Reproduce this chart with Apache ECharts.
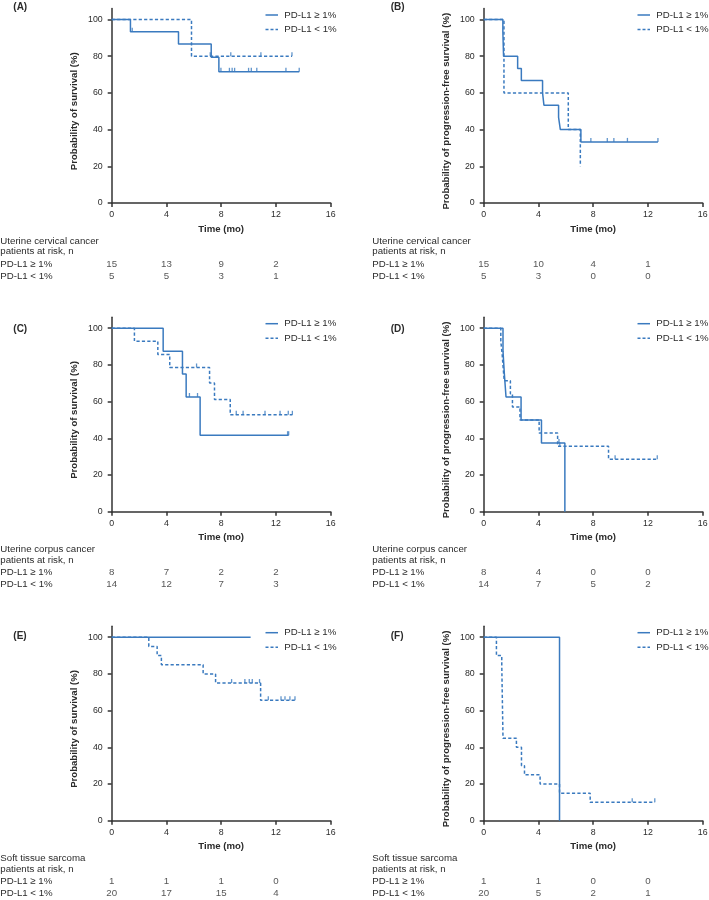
<!DOCTYPE html>
<html><head><meta charset="utf-8">
<script src="https://cdn.jsdelivr.net/npm/echarts@6/dist/echarts.min.js"></script>
<style>html,body{margin:0;padding:0;background:#fff}#c{width:709px;height:900px}</style>
</head><body><div id="c"></div>
<script>
// ---------- DATA ----------
const riskTimes = [0, 4, 8, 12];
const yTicks = [0, 20, 40, 60, 80, 100];
const xTicks = [0, 4, 8, 12, 16];
const seriesNames = ['PD-L1 ≥ 1%', 'PD-L1 < 1%'];
const panelLabels = ['(A)', '(B)', '(C)', '(D)', '(E)', '(F)'];
const yTitleOS = 'Probability of survival (%)';
const yTitlePFS = 'Probability of progression-free survival (%)';
const xTitle = 'Time (mo)';
const headers = ['Uterine cervical cancer', 'Uterine corpus cancer', 'Soft tissue sarcoma'];
const headerSub = 'patients at risk, n';

// (A) OS cervical
const aHiT = [0, 1.37, 4.88, 7.27, 7.83, 13.7];
const aHiS = [100, 93.3, 86.7, 79.4, 71.5, 71.5];
const aHiCens = [1.5, 7.98, 8.6, 8.8, 8.98, 10.0, 10.2, 10.6, 12.73, 13.7];
const aLoT = [0, 5.83, 13.17];
const aLoS = [100, 80, 80];
const aLoCens = [7.2, 8.7, 10.9, 13.17];
const aRiskHi = [15, 13, 9, 2];
const aRiskLo = [5, 5, 3, 1];

// (B) PFS cervical
const bHiT = [0, 1.4, 1.45, 2.48, 2.75, 4.3, 4.4, 5.47, 5.6, 7.1, 12.73];
const bHiS = [100, 93.3, 80, 73.3, 66.7, 60, 53.3, 46.7, 40, 33.3, 33.3];
const bHiCens = [7.83, 9.03, 9.51, 10.5, 12.73];
const bLoT = [0, 1.48, 6.18, 7.06];
const bLoS = [100, 60, 40, 20];
const bLoCens = [];
const bRiskHi = [15, 10, 4, 1];
const bRiskLo = [5, 3, 0, 0];

// (C) OS corpus
const cHiT = [0, 3.76, 5.17, 5.44, 6.46, 12.93];
const cHiS = [100, 87.5, 75, 62.5, 41.7, 41.7];
const cHiCens = [5.68, 6.27, 12.85, 12.93];
const cLoT = [0, 1.66, 3.37, 4.24, 7.15, 7.51, 8.66, 13.2];
const cLoS = [100, 92.9, 85.7, 78.6, 70.2, 61.2, 52.8, 52.8];
const cLoCens = [6.2, 9.1, 9.6, 11.2, 12.3, 12.9, 13.2];
const cRiskHi = [8, 7, 2, 2];
const cRiskLo = [14, 12, 7, 3];

// (D) PFS corpus
const dHiT = [0, 1.41, 1.51, 1.63, 2.73, 4.22, 5.93];
const dHiS = [100, 87.5, 75, 62.5, 50, 37.5, 0];
const dHiCens = [5.5];
const dLoT = [0, 1.25, 1.35, 1.42, 1.5, 1.95, 2.1, 2.65, 4.05, 5.4, 9.12, 12.68];
const dLoS = [100, 92.9, 85.7, 78.6, 71.4, 64.3, 57.1, 50, 42.9, 35.7, 28.6, 28.6];
const dLoCens = [5.56, 9.6, 12.68];
const dRiskHi = [8, 4, 0, 0];
const dRiskLo = [14, 7, 5, 2];

// (E) OS sarcoma
const eHiT = [0, 10.15];
const eHiS = [100, 100];
const eHiCens = [];
const eLoT = [0, 2.71, 3.32, 3.63, 6.68, 7.59, 10.88, 13.39];
const eLoS = [100, 95, 90, 85, 80, 75, 65.6, 65.6];
const eLoCens = [8.76, 9.73, 10.05, 10.27, 10.8, 11.44, 12.37, 12.66, 13.02, 13.39];
const eRiskHi = [1, 1, 1, 0];
const eRiskLo = [20, 17, 15, 4];

// (F) PFS sarcoma
const fHiT = [0, 5.54];
const fHiS = [100, 0];
const fHiCens = [];
const fLoT = [0, 0.93, 1.32, 1.41, 2.39, 2.76, 2.98, 4.12, 5.54, 7.78, 12.5];
const fLoS = [100, 90, 85, 45, 40, 30, 25, 20, 15, 10, 10];
const fLoCens = [10.85, 12.5];
const fRiskHi = [1, 1, 0, 0];
const fRiskLo = [20, 5, 2, 1];

// ---------- LAYOUT ----------
const FONT = '"Liberation Sans", Arial, sans-serif';
const BLUE = '#3a7abf';
const TXT = '#2b2b2b';
const AX = '#333';
const PW = 219, PH = 194.5, YMAX = 106;

const panels = [
  {lab: panelLabels[0], yTitle: yTitleOS,  head: headers[0], hiT: aHiT, hiS: aHiS, hiC: aHiCens, loT: aLoT, loS: aLoS, loC: aLoCens, rHi: aRiskHi, rLo: aRiskLo, left: 111.7, y0: 203,   labY: 7.5},
  {lab: panelLabels[1], yTitle: yTitlePFS, head: headers[0], hiT: bHiT, hiS: bHiS, hiC: bHiCens, loT: bLoT, loS: bLoS, loC: bLoCens, rHi: bRiskHi, rLo: bRiskLo, left: 483.7, y0: 203,   labY: 7.5},
  {lab: panelLabels[2], yTitle: yTitleOS,  head: headers[1], hiT: cHiT, hiS: cHiS, hiC: cHiCens, loT: cLoT, loS: cLoS, loC: cLoCens, rHi: cRiskHi, rLo: cRiskLo, left: 111.7, y0: 511.7, labY: 329},
  {lab: panelLabels[3], yTitle: yTitlePFS, head: headers[1], hiT: dHiT, hiS: dHiS, hiC: dHiCens, loT: dLoT, loS: dLoS, loC: dLoCens, rHi: dRiskHi, rLo: dRiskLo, left: 483.7, y0: 511.7, labY: 329},
  {lab: panelLabels[4], yTitle: yTitleOS,  head: headers[2], hiT: eHiT, hiS: eHiS, hiC: eHiCens, loT: eLoT, loS: eLoS, loC: eLoCens, rHi: eRiskHi, rLo: eRiskLo, left: 111.7, y0: 820.7, labY: 636},
  {lab: panelLabels[5], yTitle: yTitlePFS, head: headers[2], hiT: fHiT, hiS: fHiS, hiC: fHiCens, loT: fLoT, loS: fLoS, loC: fLoCens, rHi: fRiskHi, rLo: fRiskLo, left: 483.7, y0: 820.7, labY: 636}
];

function survAt(T, S, t) {
  let v = S[0];
  for (let i = 0; i < T.length; i++) if (T[i] <= t) v = S[i];
  return v;
}
const zip = (T, S) => T.map((t, i) => [t, S[i]]);

const grid = [], xAxis = [], yAxis = [], series = [], graphic = [];
const lineDash = [3.2, 2.2];

panels.forEach((p, i) => {
  const gMain = grid.length;
  grid.push({left: p.left, top: p.y0 - PH, width: PW, height: PH, containLabel: false, outerBoundsMode: 'none'});
  const gRisk = grid.length;
  grid.push({left: p.left, top: p.y0 + 55, width: PW, height: 24, containLabel: false, outerBoundsMode: 'none'});

  xAxis.push({
    gridIndex: gMain, type: 'value', min: 0, max: 16, interval: 4,
    axisLine: {show: true, onZero: false, lineStyle: {color: AX, width: 1.5}},
    axisTick: {show: true, length: 4, lineStyle: {color: AX, width: 1.5}},
    axisLabel: {fontSize: 8.8, color: TXT, margin: 7, fontFamily: FONT},
    splitLine: {show: false},
    name: xTitle, nameLocation: 'middle', nameGap: 21,
    nameTextStyle: {fontWeight: 'bold', fontSize: 9.6, color: TXT, fontFamily: FONT}
  });
  yAxis.push({
    gridIndex: gMain, type: 'value', min: 0, max: YMAX, interval: 20,
    axisLine: {show: true, onZero: false, lineStyle: {color: AX, width: 1.5}},
    axisTick: {show: true, length: 4, customValues: yTicks, lineStyle: {color: AX, width: 1.5}},
    axisLabel: {fontSize: 8.8, color: TXT, margin: 9, fontFamily: FONT, customValues: yTicks},
    splitLine: {show: false},
    name: p.yTitle, nameLocation: 'middle', nameRotate: 90, nameGap: 32,
    nameTextStyle: {fontWeight: 'bold', fontSize: 9.6, color: TXT, fontFamily: FONT, padding: [0, 11, 0, 0]}
  });
  // at-risk axes
  xAxis.push({gridIndex: gRisk, type: 'value', min: 0, max: 16, interval: 4, show: false});
  yAxis.push({
    gridIndex: gRisk, type: 'category', data: seriesNames, inverse: true,
    axisLine: {show: false}, axisTick: {show: false}, splitLine: {show: false},
    axisLabel: {interval: 0, align: 'left', margin: 111.5, fontSize: 9.7, color: TXT, fontFamily: FONT}
  });

  const xi = xAxis.length - 2, yi = yAxis.length - 2;
  // curves
  series.push({
    name: seriesNames[0], type: 'line', step: 'end', xAxisIndex: xi, yAxisIndex: yi,
    data: zip(p.hiT, p.hiS), symbol: 'none', showSymbol: false, silent: true,
    lineStyle: {color: BLUE, width: 1.5, type: 'solid'}, itemStyle: {color: BLUE}
  });
  series.push({
    name: seriesNames[1], type: 'line', step: 'end', xAxisIndex: xi, yAxisIndex: yi,
    data: zip(p.loT, p.loS), symbol: 'none', showSymbol: false, silent: true,
    lineStyle: {color: BLUE, width: 1.5, type: lineDash}, itemStyle: {color: BLUE}
  });
  // censor marks
  const cens = (C, T, S) => C.map(t => [t, survAt(T, S, t)]);
  series.push({
    name: seriesNames[0], type: 'scatter', xAxisIndex: xi, yAxisIndex: yi, silent: true,
    data: cens(p.hiC, p.hiT, p.hiS), symbol: 'rect', symbolSize: [1.3, 4], symbolOffset: [0, -2],
    itemStyle: {color: BLUE}
  });
  series.push({
    name: seriesNames[1], type: 'scatter', xAxisIndex: xi, yAxisIndex: yi, silent: true,
    data: cens(p.loC, p.loT, p.loS), symbol: 'rect', symbolSize: [1.3, 4], symbolOffset: [0, -2],
    itemStyle: {color: BLUE}
  });
  // at-risk numbers
  const riskData = [];
  riskTimes.forEach((t, k) => {
    riskData.push({value: [t, seriesNames[0]], n: p.rHi[k]});
    riskData.push({value: [t, seriesNames[1]], n: p.rLo[k]});
  });
  series.push({
    type: 'scatter', xAxisIndex: xi + 1, yAxisIndex: yi + 1, silent: true,
    data: riskData.map(d => ({value: d.value, label: {formatter: String(d.n)}})),
    symbol: 'circle', symbolSize: 2, itemStyle: {color: 'rgba(0,0,0,0)'},
    label: {show: true, position: 'inside', fontSize: 9.7, color: TXT, fontFamily: FONT}
  });

  // panel label, legend, header
  const rightPanel = p.left > 300;
  graphic.push({type: 'text', x: rightPanel ? 390.7 : 13.3, y: p.labY,
    style: {text: p.lab, fontSize: 10, fontWeight: 'bold', fontFamily: FONT, fill: TXT, align: 'left', verticalAlign: 'middle'}});
  const ry1 = p.y0 - 188, ry2 = ry1 + 14.6;
  const lx1 = p.left + 153.8, lx2 = p.left + 166.3, tx = p.left + 172.5;
  graphic.push({type: 'line', shape: {x1: lx1, y1: ry1, x2: lx2, y2: ry1}, style: {stroke: BLUE, lineWidth: 1.5}});
  graphic.push({type: 'line', shape: {x1: lx1, y1: ry2, x2: lx2, y2: ry2}, style: {stroke: BLUE, lineWidth: 1.5, lineDash: [3, 2]}});
  graphic.push({type: 'text', x: tx, y: ry1, style: {text: seriesNames[0], fontSize: 9.7, fontFamily: FONT, fill: TXT, align: 'left', verticalAlign: 'middle'}});
  graphic.push({type: 'text', x: tx, y: ry2, style: {text: seriesNames[1], fontSize: 9.7, fontFamily: FONT, fill: TXT, align: 'left', verticalAlign: 'middle'}});
  const hx = p.left - 111.4;
  graphic.push({type: 'text', x: hx, y: p.y0 + 38, style: {text: p.head, fontSize: 9.7, fontFamily: FONT, fill: TXT, align: 'left', verticalAlign: 'middle'}});
  graphic.push({type: 'text', x: hx, y: p.y0 + 48.7, style: {text: headerSub, fontSize: 9.7, fontFamily: FONT, fill: TXT, align: 'left', verticalAlign: 'middle'}});
});

const chart = echarts.init(document.getElementById('c'), null, {renderer: 'canvas', width: 709, height: 900});
chart.setOption({
  animation: false,
  backgroundColor: '#ffffff',
  textStyle: {fontFamily: FONT},
  grid, xAxis, yAxis, series, graphic
});
</script></body></html>
